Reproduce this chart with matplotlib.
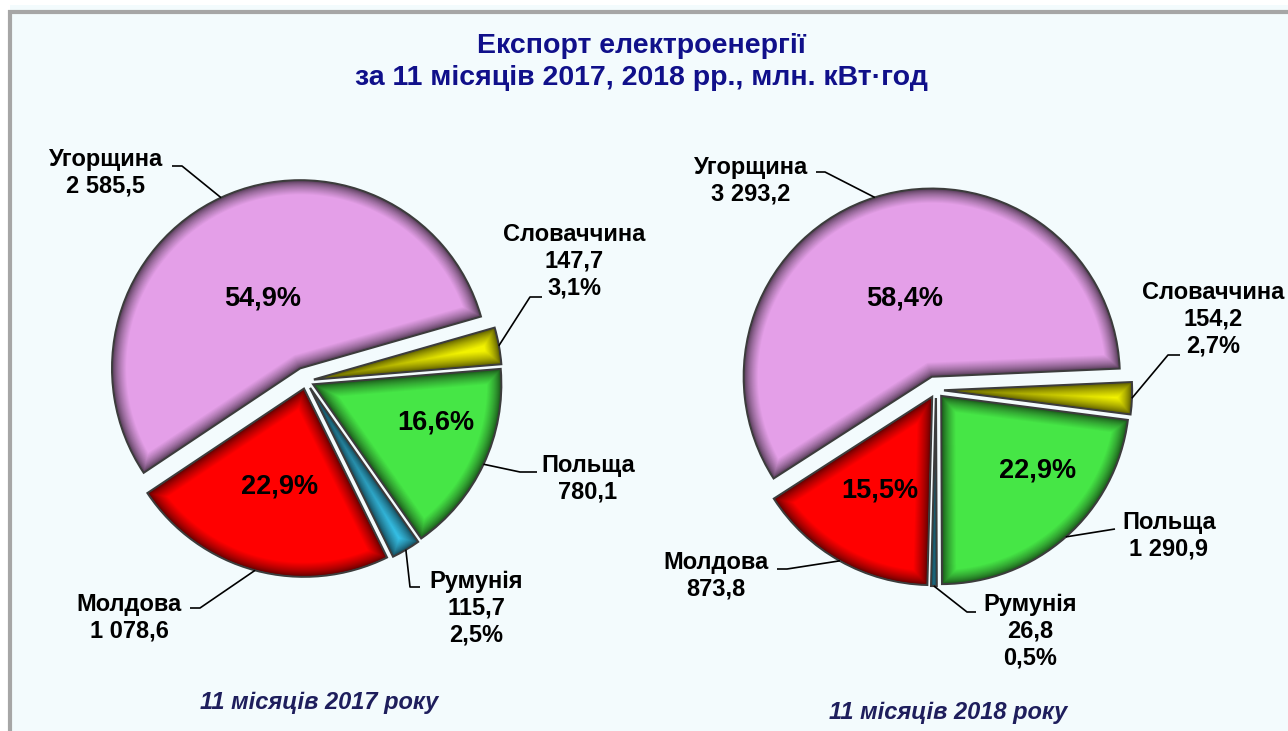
import numpy as np
import matplotlib
matplotlib.use("Agg")
import matplotlib.pyplot as plt
from matplotlib.patches import Polygon, Rectangle
from matplotlib.colors import to_rgb

plt.rcParams['font.family'] = ['Liberation Sans', 'DejaVu Sans']

# data
countries = ['Угорщина', 'Молдова', 'Румунія', 'Польща', 'Словаччина']
values_2017 = [2585.5, 1078.6, 115.7, 780.1, 147.7]
values_2018 = [3293.2, 873.8, 26.8, 1290.9, 154.2]
colors = ['#e49fe8', '#ff0000', '#38c8f0', '#46e646', '#f2f200']
title = 'Експорт електроенергії\nза 11 місяців 2017, 2018 рр., млн. кВт·год'
captions = ['11 місяців 2017 року', '11 місяців 2018 року']

W, H = 1288, 731


def px(x, y):
    # image pixel coords (y down) -> axes coords (y up)
    return (x, H - y)


def fmt_val(v):
    return f"{v:,.1f}".replace(",", " ").replace(".", ",")


def fmt_pct(p):
    return f"{p:.1f}%".replace(".", ",")


def bevel(ax, w, base, depth=14, steps=14):
    c = np.array(w.center)
    r = w.r
    t1, t2 = np.radians(w.theta1), np.radians(w.theta2)
    a = (t2 - t1) / 2
    bis = (t1 + t2) / 2
    base = np.array(to_rgb(base))
    dark = base * 0.35
    w.set_facecolor(dark)
    for k in range(1, steps + 1):
        d = depth * k / steps
        f = (k / steps) ** 0.7
        col = dark + (base - dark) * f
        apex_d = d / np.sin(a)
        if apex_d > r - d - 2:
            break
        delta = np.arcsin(d / (r - d))
        if t2 - t1 - 2 * delta <= 0:
            break
        th = np.linspace(t1 + delta, t2 - delta, 120)
        pts = [c + apex_d * np.array([np.cos(bis), np.sin(bis)])]
        pts += list(np.column_stack([c[0] + (r - d) * np.cos(th),
                                     c[1] + (r - d) * np.sin(th)]))
        ax.add_patch(Polygon(pts, closed=True, fc=col, ec='none',
                             zorder=2 + k * 0.01))


# layout of both pies (image pixel coords; explode in pixels)
pies = [
    dict(values=values_2017, center=(306, 381), r=188, start=16,
         explode=[14, 8, 8, 8, 8],
         label_pos=[(106, 173), (129, 618), (476, 608), (588, 479), (574, 261)],
         leaders=[[(182, 166), (172, 166)], [(200, 608), (190, 608)],
                  [(410, 587), (420, 587)], [(520, 472), (537, 472)],
                  [(530, 297), (542, 297)]],
         inside={0: (263, 298), 1: (280, 487), 3: (436, 423)},
         caption=(319, 703)),
    dict(values=values_2018, center=(936, 390), r=188, start=2.5,
         explode=[14, 8, 8, 8, 8],
         label_pos=[(751, 181), (716, 576), (1030, 631), (1169, 536), (1213, 319)],
         leaders=[[(825, 172), (816, 172)], [(787, 569), (777, 569)],
                  [(967, 612), (976, 612)], [(1115, 529)],
                  [(1168, 355), (1180, 355)]],
         inside={0: (905, 298), 1: (880, 490), 3: (1038, 470)},
         caption=(948, 712)),
]

fig = plt.figure(figsize=(W / 100, H / 100), dpi=100, facecolor='white')
ax = fig.add_axes([0, 0, 1, 1])
ax.set_axis_off()

# panel background and grey border
ax.add_patch(Rectangle(px(10, H + 5), W, H, fc='#f3fbfd', ec='none', zorder=0))
ax.plot([8, W], [H - 12, H - 12], color='#a6a6a6', lw=3, zorder=1, solid_capstyle='butt')
ax.plot([10, 10], [H - 10, 0], color='#a6a6a6', lw=3, zorder=1, solid_capstyle='butt')

navy = '#10108a'
ax.text(*px(641, 62), title, ha='center', va='center', fontsize=20.5,
        fontweight='bold', color=navy, linespacing=1.3, zorder=5)

for p in pies:
    vals = p['values']
    total = sum(vals)
    pcts = [v / total * 100 for v in vals]
    wedges, _ = ax.pie(vals, colors=colors, startangle=p['start'],
                       counterclock=True, explode=p['explode'],
                       center=px(*p['center']), radius=p['r'],
                       wedgeprops=dict(edgecolor='#3c3c3c', linewidth=1.6))
    for w, col in zip(wedges, colors):
        w.set_zorder(2)
        bevel(ax, w, col)

    for i, w in enumerate(wedges):
        # leader line from the middle of the outer arc
        bis = np.radians((w.theta1 + w.theta2) / 2)
        anchor = (w.center[0] + w.r * np.cos(bis), w.center[1] + w.r * np.sin(bis))
        pts = [anchor] + [px(*q) for q in p['leaders'][i]]
        ax.plot([q[0] for q in pts], [q[1] for q in pts], color='black',
                lw=1.2, zorder=4, solid_capstyle='butt')
        lines = [countries[i], fmt_val(vals[i])]
        if i not in p['inside']:
            lines.append(fmt_pct(pcts[i]))
        ax.text(*px(*p['label_pos'][i]), '\n'.join(lines), ha='center',
                va='center', fontsize=17, fontweight='bold', color='black',
                linespacing=1.2, zorder=5)

    for i, pos in p['inside'].items():
        ax.text(*px(*pos), fmt_pct(pcts[i]), ha='center', va='center',
                fontsize=19.5, fontweight='bold', color='black', zorder=5)

for p, cap in zip(pies, captions):
    ax.text(*px(*p['caption']), cap, ha='center', va='center', fontsize=17,
            fontweight='bold', fontstyle='italic', color='#1e1e5c', zorder=5)

ax.set_aspect('auto')
ax.set_xlim(0, W)
ax.set_ylim(0, H)

fig.savefig('out.png', dpi=100, facecolor='white')
